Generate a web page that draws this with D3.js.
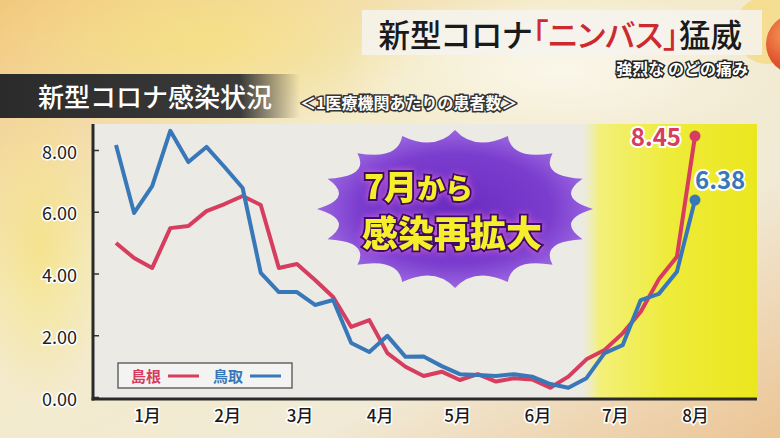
<!DOCTYPE html>
<html><head><meta charset="utf-8">
<script src="https://cdn.jsdelivr.net/npm/d3@7"></script>
<style>
html,body{margin:0;padding:0;background:#f2ecd6;}
svg{display:block;}
text{font-family:"Noto Sans CJK JP","Noto Sans",sans-serif;}
.palt{font-feature-settings:"palt";}
</style></head>
<body>
<svg id="chart" width="780" height="438"></svg>
<script>
// ---- data ----
const weeks = ["2024-12-20","2024-12-27","2025-01-03","2025-01-10","2025-01-17","2025-01-24","2025-01-31",
  "2025-02-07","2025-02-14","2025-02-21","2025-02-28","2025-03-07","2025-03-14","2025-03-21","2025-03-28",
  "2025-04-04","2025-04-11","2025-04-18","2025-04-25","2025-05-02","2025-05-09","2025-05-16","2025-05-23",
  "2025-05-30","2025-06-06","2025-06-13","2025-06-20","2025-06-27","2025-07-04","2025-07-11","2025-07-18",
  "2025-07-25","2025-08-01"];
const shimane = [4.99,4.50,4.18,5.47,5.54,6.02,6.25,6.51,6.22,4.18,4.31,3.79,3.24,2.27,2.49,1.42,0.98,
  0.68,0.82,0.55,0.74,0.50,0.61,0.57,0.30,0.66,1.22,1.52,2.06,2.76,3.81,4.54,8.45];
const tottori = [8.16,5.96,6.83,8.62,7.61,8.10,7.45,6.77,4.02,3.40,3.40,2.98,3.14,1.75,1.46,1.98,1.30,
  1.31,1.00,0.74,0.71,0.68,0.74,0.66,0.42,0.30,0.61,1.42,1.68,3.14,3.34,4.06,6.38];
const seriesNames = ["島根","鳥取"];
const yTicks = [0,2,4,6,8];
const titleParts = ["新型コロナ","「ニンバス」","猛威"];
const subTitle = "強烈な のどの痛み";
const chartTitle = "新型コロナ感染状況";
const unitNote = "＜1医療機関あたりの患者数＞";
const calloutLines = [["7月","から"],["感染再拡大",""]];

// ---- setup ----
const svg = d3.select("#chart");
const defs = svg.append("defs");
const RED = "#d63d5e", BLUE = "#3878b8";
const parse = d3.timeParse("%Y-%m-%d");
const dates = weeks.map(parse);

// background gradients
const bg = defs.append("linearGradient").attr("id","bg").attr("x1","0").attr("y1","0").attr("x2","1").attr("y2","1");
bg.append("stop").attr("offset","0").attr("stop-color","#f2c77e");
bg.append("stop").attr("offset","0.35").attr("stop-color","#f4ebc8");
bg.append("stop").attr("offset","0.7").attr("stop-color","#f1ead6");
bg.append("stop").attr("offset","1").attr("stop-color","#ecc494");
svg.append("rect").attr("width",780).attr("height",438).attr("fill","url(#bg)");
const rg = defs.append("radialGradient").attr("id","blob");
rg.append("stop").attr("offset","0").attr("stop-color","#f6e27a").attr("stop-opacity",0.7);
rg.append("stop").attr("offset","1").attr("stop-color","#f6e27a").attr("stop-opacity",0);
svg.append("ellipse").attr("cx",200).attr("cy",40).attr("rx",220).attr("ry",90).attr("fill","url(#blob)");
svg.append("ellipse").attr("cx",40).attr("cy",250).attr("rx",70).attr("ry",150).attr("fill","url(#blob)");
const rg2 = defs.append("radialGradient").attr("id","blob2");
rg2.append("stop").attr("offset","0").attr("stop-color","#ffffff").attr("stop-opacity",0.6);
rg2.append("stop").attr("offset","1").attr("stop-color","#ffffff").attr("stop-opacity",0);
svg.append("ellipse").attr("cx",560).attr("cy",70).attr("rx",220).attr("ry",80).attr("fill","url(#blob2)");

// decorative balls top right
const ball = defs.append("radialGradient").attr("id","ball").attr("cx","0.35").attr("cy","0.35");
ball.append("stop").attr("offset","0").attr("stop-color","#f79a5a");
ball.append("stop").attr("offset","1").attr("stop-color","#e0502a");
svg.append("circle").attr("cx",768).attr("cy",30).attr("r",34).attr("fill","#f7d66a").attr("opacity",0.6);
svg.append("circle").attr("cx",796).attr("cy",44).attr("r",30).attr("fill","url(#ball)");

// title box
svg.append("rect").attr("x",362).attr("y",10).attr("width",400).attr("height",45).attr("fill","#f4f3ee").attr("opacity",0.85);
const tt = svg.append("text").attr("class","palt").attr("x",742).attr("y",47).attr("text-anchor","end")
  .attr("font-size",31.5).attr("font-weight",500).attr("fill","#1a1a1a");
tt.append("tspan").text(titleParts[0]);
tt.append("tspan").attr("fill","#cc2a2e").text(titleParts[1]);
tt.append("tspan").text(titleParts[2]);
svg.append("text").attr("x",748).attr("y",75).attr("text-anchor","end").attr("font-size",16).attr("font-weight",700)
  .attr("fill","#ffffff").attr("stroke","#222").attr("stroke-width",3).attr("paint-order","stroke").text(subTitle);

// left banner
const ban = defs.append("linearGradient").attr("id","ban");
ban.append("stop").attr("offset","0").attr("stop-color","#2b2b2b");
ban.append("stop").attr("offset","0.8").attr("stop-color","#3a3a3a");
ban.append("stop").attr("offset","1").attr("stop-color","#3a3a3a").attr("stop-opacity",0);
svg.append("rect").attr("x",0).attr("y",74).attr("width",300).attr("height",44).attr("fill","url(#ban)");
svg.append("text").attr("x",38).attr("y",107).attr("font-size",26).attr("font-weight",500).attr("fill","#fff").text(chartTitle);
svg.append("text").attr("x",300).attr("y",109).attr("font-size",16).attr("font-weight",700).attr("fill","#fff")
  .attr("stroke","#333").attr("stroke-width",3).attr("paint-order","stroke").text(unitNote);

// plot panel
const PL = 93, PR = 757, PT = 124, PB = 399;
svg.append("rect").attr("x",PL).attr("y",PT).attr("width",PR-PL).attr("height",PB-PT).attr("fill","#ebeae5");
const yel = defs.append("linearGradient").attr("id","yel");
yel.append("stop").attr("offset","0").attr("stop-color","#f0ef9a").attr("stop-opacity",0);
yel.append("stop").attr("offset","0.1").attr("stop-color","#f3f07a");
yel.append("stop").attr("offset","0.5").attr("stop-color","#eeeb3a");
yel.append("stop").attr("offset","1").attr("stop-color","#ebe71e");
svg.append("rect").attr("x",582).attr("y",PT).attr("width",PR-582).attr("height",PB-PT).attr("fill","url(#yel)");

// scales
const x = d3.scaleTime().domain([dates[0], dates[dates.length-1]]).range([116, 695]);
const y = d3.scaleLinear().domain([0, 8]).range([397, 150]);

// starburst callout
const cx = 455, cy = 209, rx = 138, ry = 79, N = 16, inner = 0.74;
let p = d3.path();
for (let k = 0; k <= N; k++) {
  const a = 2*Math.PI*k/N - Math.PI/2;
  const px = cx + rx*Math.cos(a), py = cy + ry*Math.sin(a);
  if (k === 0) p.moveTo(px, py);
  else {
    const am = a - Math.PI/N;
    p.quadraticCurveTo(cx + rx*inner*Math.cos(am), cy + ry*inner*Math.sin(am), px, py);
  }
}
const sb = defs.append("radialGradient").attr("id","sb");
sb.append("stop").attr("offset","0").attr("stop-color","#6a2bc0");
sb.append("stop").attr("offset","0.7").attr("stop-color","#7b3dce");
sb.append("stop").attr("offset","1").attr("stop-color","#9a66e0");
svg.append("path").attr("d", p.toString()).attr("fill","url(#sb)");
const glow = defs.append("filter").attr("id","glow").attr("x","-20%").attr("y","-30%").attr("width","140%").attr("height","160%");
glow.append("feGaussianBlur").attr("in","SourceAlpha").attr("stdDeviation",3).attr("result","b");
glow.append("feFlood").attr("flood-color","#d05ad8").attr("result","c");
glow.append("feComposite").attr("in","c").attr("in2","b").attr("operator","in").attr("result","g");
const fm = glow.append("feMerge"); fm.append("feMergeNode").attr("in","g"); fm.append("feMergeNode").attr("in","SourceGraphic");
const cg = svg.append("g").attr("filter","url(#glow)");
const l1 = cg.append("text").attr("x",364).attr("y",199).attr("fill","#f6ee2c").attr("stroke","#3a0f66").attr("stroke-width",4)
  .attr("paint-order","stroke").attr("font-weight",900);
l1.append("tspan").attr("font-size",33).text(calloutLines[0][0]);
l1.append("tspan").attr("font-size",28).text(calloutLines[0][1]);
cg.append("text").attr("x",362).attr("y",247).attr("fill","#f6ee2c").attr("stroke","#3a0f66").attr("stroke-width",4)
  .attr("paint-order","stroke").attr("font-weight",900).attr("font-size",36).text(calloutLines[1][0]);

// lines
const line = d3.line().x((d,i) => x(dates[i])).y(d => y(d));
[[shimane, RED],[tottori, BLUE]].forEach(([vals, col]) => {
  svg.append("path").datum(vals).attr("d", line).attr("fill","none").attr("stroke",col)
    .attr("stroke-width",4).attr("stroke-linejoin","round");
});
// end markers and labels
const last = dates.length - 1;
svg.append("circle").attr("cx",x(dates[last])).attr("cy",y(shimane[last])).attr("r",5.5).attr("fill",RED);
svg.append("circle").attr("cx",x(dates[last])).attr("cy",y(tottori[last])).attr("r",5.5).attr("fill",BLUE);
svg.append("text").attr("x",x(dates[last])-14).attr("y",y(shimane[last])+10).attr("text-anchor","end")
  .attr("font-size",24).attr("font-weight",700).attr("fill",RED).attr("stroke","#fff").attr("stroke-width",4)
  .attr("paint-order","stroke").text(d3.format(".2f")(shimane[last]));
svg.append("text").attr("x",x(dates[last])).attr("y",y(tottori[last])-11).attr("text-anchor","start")
  .attr("font-size",24).attr("font-weight",700).attr("fill",BLUE).attr("stroke","#fff").attr("stroke-width",4)
  .attr("paint-order","stroke").text(d3.format(".2f")(tottori[last]));

// axes
const yAxis = d3.axisLeft(y).tickValues(yTicks).tickFormat(d3.format(".2f")).tickSizeInner(-6).tickSizeOuter(0).tickPadding(16);
const gy = svg.append("g").attr("transform",`translate(${PL},0)`).call(yAxis);
gy.select(".domain").remove();
gy.selectAll(".tick line").attr("stroke","#333").attr("stroke-width",1.5);
gy.selectAll(".tick text").attr("font-family","'Noto Sans','Open Sans',sans-serif").attr("font-size",18).attr("fill","#222")
  .attr("stroke","#fff").attr("stroke-width",3).attr("paint-order","stroke").attr("dy","0.45em");

const xAxis = d3.axisBottom(x).ticks(d3.timeMonth.every(1)).tickFormat(d => (d.getMonth()+1) + "月").tickSize(0).tickPadding(11);
const gx = svg.append("g").attr("transform",`translate(0,${PB})`).call(xAxis);
gx.select(".domain").remove();
gx.selectAll(".tick text").attr("font-family","'Noto Sans CJK JP',sans-serif").attr("font-size",17).attr("font-weight",500)
  .attr("fill","#1a1a1a").attr("stroke","#fff").attr("stroke-width",3).attr("paint-order","stroke");

svg.append("line").attr("x1",PL).attr("x2",PL).attr("y1",PT).attr("y2",PB+1.5).attr("stroke","#2a2a2a").attr("stroke-width",3);
svg.append("line").attr("x1",PL-1.5).attr("x2",PR).attr("y1",PB).attr("y2",PB).attr("stroke","#2a2a2a").attr("stroke-width",3);

// legend
const lg = svg.append("g");
lg.append("rect").attr("x",118).attr("y",363).attr("width",174).attr("height",25).attr("fill","#f3f3f1").attr("stroke","#666").attr("stroke-width",1.5);
[[seriesNames[0], RED, 131],[seriesNames[1], BLUE, 213]].forEach(([name, col, lx]) => {
  lg.append("text").attr("x",lx).attr("y",382).attr("font-size",15).attr("font-weight",700).attr("fill",col).text(name);
  lg.append("line").attr("x1",lx+37).attr("x2",lx+68).attr("y1",376).attr("y2",376).attr("stroke",col).attr("stroke-width",3);
});
</script>
</body></html>
